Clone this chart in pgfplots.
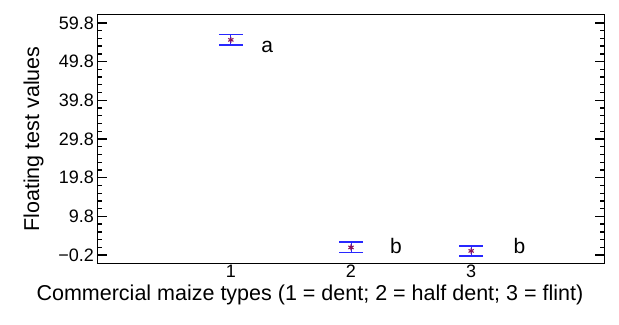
\documentclass[border=0pt]{standalone}
\usepackage{fontspec}
\setmainfont{Liberation Sans}
\usepackage{pgfplots}
\pgfplotsset{compat=1.18}

\definecolor{barblue}{RGB}{40,40,255}
\definecolor{meanred}{RGB}{140,20,90}

\begin{document}
\begin{tikzpicture}
\begin{axis}[
    scale only axis,
    width=507bp, height=248.6bp,
    xmin=-0.11, xmax=4.11,
    ymin=-2.3, ymax=61.9,
    xtick={1,2,3},
    xtick style={draw=none},
    ytick={-0.2,9.8,19.8,29.8,39.8,49.8,59.8},
    yticklabels={−0.2,9.8,19.8,29.8,39.8,49.8,59.8},
    minor y tick num=4,
    major tick length=9bp, minor tick length=5bp,
    tick style={black, line width=1.4bp},
    axis line style={line width=1.6bp},
    tick label style={font=\fontsize{18bp}{20bp}\selectfont},
    xticklabel style={yshift=2bp},
    label style={font=\fontsize{21.5bp}{24bp}\selectfont},
    /pgf/number format/assume math mode=true,
    xlabel={Commercial maize types (1 = dent; 2 = half dent; 3 = flint)},
    xlabel style={at={(rel axis cs:0.419,0)}, anchor=north, yshift=-18bp},
    ylabel={Floating test values},
    ylabel style={yshift=8bp},
]
\addplot[only marks, mark=asterisk, mark size=3bp, meanred,
    mark options={line width=1.1bp},
    error bars/.cd, y dir=both, y explicit,
    error bar style={barblue, line width=1bp},
    error mark options={rotate=90, barblue, mark size=12bp, line width=1.3bp}]
coordinates {
    (1,55.4) +- (0,1.3)
    (2,1.8) +- (0,1.4)
    (3,0.9) +- (0,1.3)
};
\node[anchor=base west, font=\fontsize{21bp}{24bp}\selectfont] at (axis cs:1.224,52.2) {a};
\node[anchor=base west, font=\fontsize{21bp}{24bp}\selectfont] at (axis cs:2.297,0.2) {b};
\node[anchor=base west, font=\fontsize{21bp}{24bp}\selectfont] at (axis cs:3.324,0.2) {b};
\coordinate (sw) at (rel axis cs:0,0);
\end{axis}
\pgfresetboundingbox
\useasboundingbox ([shift={(-97.5bp,-61.7bp)}]sw) rectangle ++(619bp,325bp);
\end{tikzpicture}
\end{document}
